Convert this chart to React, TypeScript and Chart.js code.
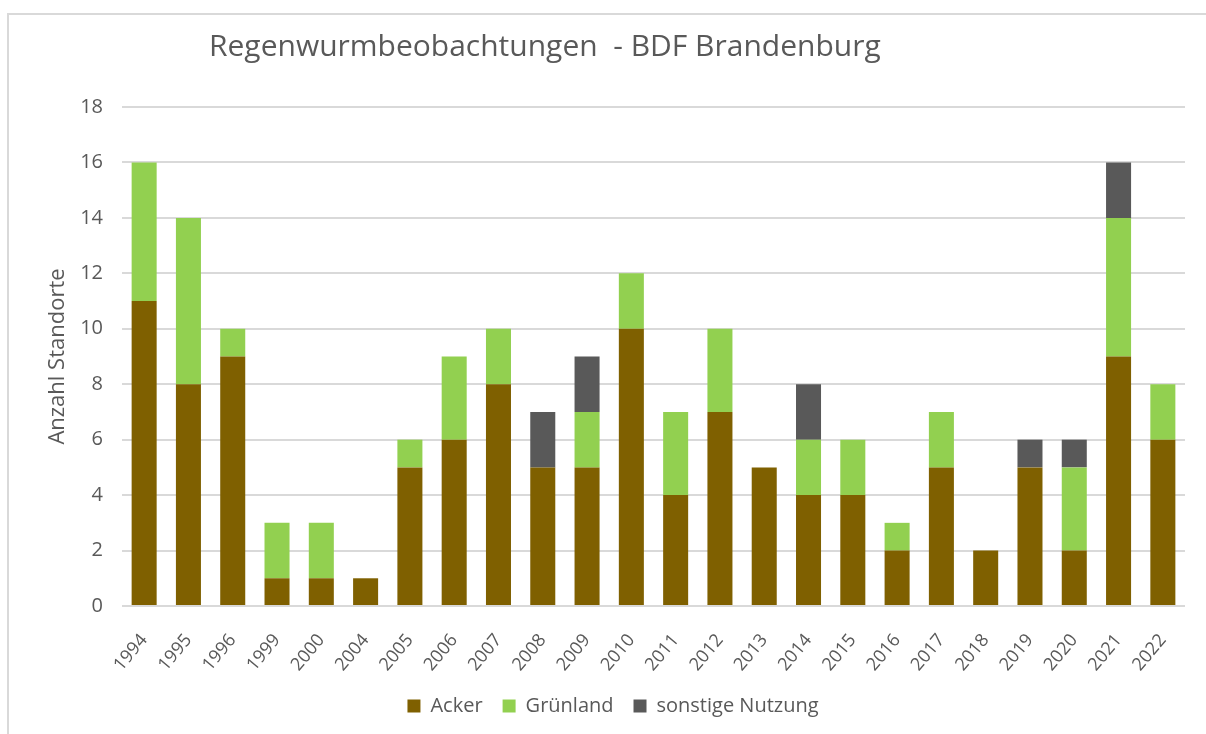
import React, { useEffect, useRef } from "react";
import { Chart, registerables } from "chart.js";

Chart.register(...registerables);

const years = ["1994","1995","1996","1999","2000","2004","2005","2006","2007","2008","2009","2010","2011","2012","2013","2014","2015","2016","2017","2018","2019","2020","2021","2022"];
const acker = [11,8,9,1,1,1,5,6,8,5,5,10,4,7,5,4,4,2,5,2,5,2,9,6];
const gruenland = [5,6,1,2,2,0,1,3,2,0,2,2,3,3,0,2,2,1,2,0,0,3,5,2];
const sonstige = [0,0,0,0,0,0,0,0,0,2,2,0,0,0,0,2,0,0,0,0,1,1,2,0];
const yTicks = [0,2,4,6,8,10,12,14,16,18];

const titleText = "Regenwurmbeobachtungen  - BDF Brandenburg";
const FONT = "'Open Sans', sans-serif";
const TEXT = "#595959";

const framePlugin = {
  id: "frameAndTitle",
  beforeDraw(chart: any) {
    const ctx = chart.ctx;
    ctx.save();
    ctx.strokeStyle = "#d9d9d9";
    ctx.lineWidth = 2;
    ctx.beginPath();
    ctx.moveTo(8, 734);
    ctx.lineTo(8, 14);
    ctx.lineTo(1206, 14);
    ctx.stroke();
    ctx.restore();
  },
  afterDraw(chart: any) {
    const ctx = chart.ctx;
    ctx.save();
    ctx.fillStyle = TEXT;
    ctx.font = `30px ${FONT}`;
    ctx.textAlign = "left";
    ctx.textBaseline = "middle";
    ctx.fillText(titleText, 209, 47);
    ctx.restore();
  },
};

export default function App() {
  const ref = useRef<HTMLCanvasElement>(null);
  useEffect(() => {
    if (!ref.current) return;
    const chart = new Chart(ref.current, {
      type: "bar",
      data: {
        labels: years,
        datasets: [
          { label: "Acker", data: acker, backgroundColor: "#7f6000" },
          { label: "Grünland", data: gruenland, backgroundColor: "#92d050" },
          { label: "sonstige Nutzung", data: sonstige, backgroundColor: "#595959" },
        ],
      },
      options: {
        animation: false,
        responsive: false,
        maintainAspectRatio: false,
        layout: { padding: { left: 41, right: 21, top: 107, bottom: 8 } },
        datasets: { bar: { categoryPercentage: 1, barPercentage: 0.565 } },
        plugins: {
          legend: {
            position: "bottom",
            labels: {
              font: { family: FONT, size: 20 },
              color: TEXT,
              boxWidth: 13,
              boxHeight: 13,
              padding: 20,
            },
          },
          tooltip: { enabled: false },
          title: { display: false },
        },
        scales: {
          x: {
            stacked: true,
            grid: { display: false },
            border: { display: false },
            ticks: {
              font: { family: FONT, size: 18 },
              color: TEXT,
              minRotation: 50,
              maxRotation: 50,
              padding: 16,
            },
            afterFit: (s: any) => { s.height = 70; },
          },
          y: {
            stacked: true,
            min: 0,
            max: 18,
            afterBuildTicks: (s: any) => { s.ticks = yTicks.map((v) => ({ value: v })); },
            grid: { color: "#d9d9d9", lineWidth: 2, drawTicks: false },
            border: { display: false },
            ticks: {
              font: { family: FONT, size: 20 },
              color: TEXT,
              padding: 19,
            },
            title: {
              display: true,
              text: "Anzahl Standorte",
              font: { family: FONT, size: 22 },
              color: TEXT,
              padding: { top: 4, bottom: 4 },
            },
            afterFit: (s: any) => { s.width = 81; },
          },
        },
      },
      plugins: [framePlugin],
    });
    return () => chart.destroy();
  }, []);
  return (
    <div style={{ position: "absolute", left: 0, top: 0, width: 1206, height: 734, background: "#fff" }}>
      <canvas ref={ref} width={1206} height={734} style={{ display: "block" }} />
    </div>
  );
}
